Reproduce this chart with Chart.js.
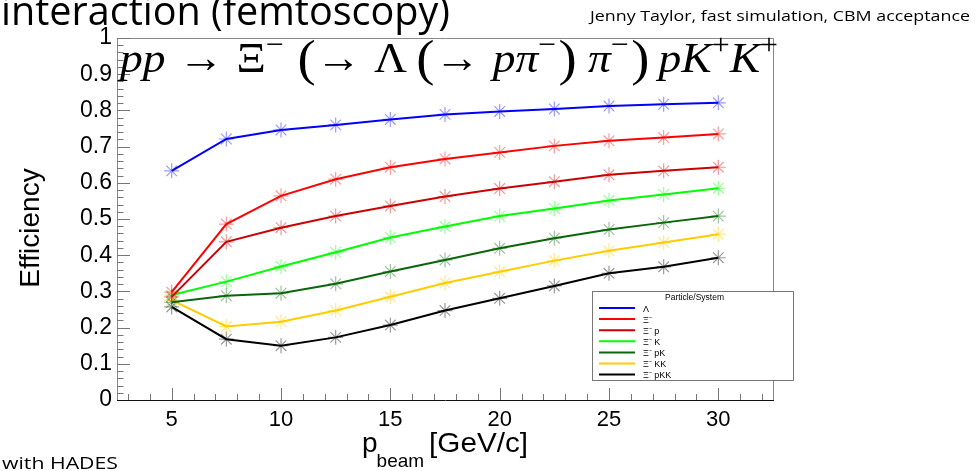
<!DOCTYPE html>
<html>
<head>
<meta charset="utf-8">
<script src="https://cdn.jsdelivr.net/npm/chart.js@4"></script>
<style>
  html, body { margin: 0; padding: 0; background: #fff; }
  #effChart { display: block; }
</style>
</head>
<body>
<canvas id="effChart" width="976" height="471"></canvas>
<script>
// beam momentum points (GeV/c)
const beamMomentum = [5, 7.5, 10, 12.5, 15, 17.5, 20, 22.5, 25, 27.5, 30];

// efficiencies
const effLambda = [0.633, 0.721, 0.746, 0.760, 0.775, 0.789, 0.797, 0.804, 0.812, 0.817, 0.821];
const effXi     = [0.298, 0.486, 0.564, 0.610, 0.643, 0.666, 0.684, 0.702, 0.716, 0.725, 0.735];
const effXiP    = [0.285, 0.437, 0.476, 0.508, 0.536, 0.562, 0.584, 0.603, 0.622, 0.633, 0.643];
const effXiK    = [0.290, 0.327, 0.369, 0.408, 0.449, 0.479, 0.508, 0.529, 0.551, 0.568, 0.585];
const effXiPK   = [0.270, 0.288, 0.295, 0.321, 0.355, 0.387, 0.419, 0.447, 0.471, 0.490, 0.508];
const effXiKK   = [0.276, 0.203, 0.216, 0.247, 0.285, 0.323, 0.354, 0.385, 0.412, 0.435, 0.458];
const effXiPKK  = [0.257, 0.168, 0.150, 0.173, 0.207, 0.247, 0.281, 0.315, 0.350, 0.368, 0.393];

const seriesLabels = ['Λ', 'Ξ⁻', 'Ξ⁻ p', 'Ξ⁻ K', 'Ξ⁻ pK', 'Ξ⁻ KK', 'Ξ⁻ pKK'];
const seriesValues = [effLambda, effXi, effXiP, effXiK, effXiPK, effXiKK, effXiPKK];
const lineColors   = ['#0000ff', '#ff0000', '#cc0000', '#00ff00', '#0a660a', '#ffcc00', '#000000'];
const markerColors = ['rgba(0,0,255,0.4)', 'rgba(255,0,0,0.4)', 'rgba(204,0,0,0.4)', 'rgba(0,255,0,0.4)',
                      'rgba(10,102,10,0.4)', 'rgba(255,204,0,0.45)', 'rgba(0,0,0,0.4)'];

const xTickValues = [5, 10, 15, 20, 25, 30];
const legendTitle = 'Particle/System';

// draw text squeezed/stretched to a given width
function fitText(ctx, text, x, y, w) {
    const m = ctx.measureText(text).width;
    ctx.save();
    ctx.translate(x, y);
    ctx.scale(w / m, 1);
    ctx.fillText(text, 0, 0);
    ctx.restore();
}

// ROOT style frame with inward ticks
const framePlugin = {
    id: 'frame',
    afterDatasetsDraw(chart) {
        const { ctx, chartArea: a, scales: { x, y } } = chart;
        ctx.save();
        ctx.lineWidth = 1;
        ctx.strokeStyle = '#888';
        ctx.beginPath();
        ctx.moveTo(a.left + 0.5, a.bottom);
        ctx.lineTo(a.left + 0.5, a.top + 0.5);
        ctx.lineTo(a.right + 0.5, a.top + 0.5);
        ctx.lineTo(a.right + 0.5, a.bottom);
        ctx.stroke();

        ctx.strokeStyle = '#777';
        ctx.beginPath();
        for (let v = 3; v <= 32; v++) {
            const px = Math.round(x.getPixelForValue(v)) + 0.5;
            const len = v % 5 === 0 ? 12 : 6;
            ctx.moveTo(px, a.bottom);
            ctx.lineTo(px, a.bottom - len);
        }
        for (let i = 0; i <= 50; i++) {
            const py = Math.round(y.getPixelForValue(i * 0.02)) + 0.5;
            const len = i % 5 === 0 ? 13 : 6.5;
            ctx.moveTo(a.left, py);
            ctx.lineTo(a.left + len, py);
        }
        ctx.stroke();

        ctx.strokeStyle = '#111';
        ctx.beginPath();
        ctx.moveTo(a.left, a.bottom + 0.5);
        ctx.lineTo(a.right + 1, a.bottom + 0.5);
        ctx.stroke();
        ctx.restore();
    }
};

// legend box, axis titles, formula and slide text
const textPlugin = {
    id: 'texts',
    afterDraw(chart) {
        const { ctx, chartArea: a } = chart;
        ctx.save();
        ctx.fillStyle = '#000';
        ctx.textBaseline = 'alphabetic';

        // legend
        const lx = a.right - 181, ly = a.bottom - 109, lw = 201, lh = 89;
        ctx.fillStyle = '#fff';
        ctx.fillRect(lx, ly, lw, lh);
        ctx.strokeStyle = '#777';
        ctx.lineWidth = 1;
        ctx.strokeRect(lx + 0.5, ly + 0.5, lw, lh);
        ctx.fillStyle = '#000';
        ctx.font = '8.5px "Liberation Sans"';
        ctx.textAlign = 'center';
        ctx.fillText(legendTitle, lx + lw / 2 + 2, ly + 9);
        ctx.textAlign = 'left';
        chart.data.datasets.forEach((ds, i) => {
            const ey = ly + 17 + i * 11.1;
            ctx.strokeStyle = ds.borderColor;
            ctx.lineWidth = 2;
            ctx.beginPath();
            ctx.moveTo(lx + 7, ey);
            ctx.lineTo(lx + 43, ey);
            ctx.stroke();
            ctx.font = '9px "Liberation Sans"';
            ctx.fillText(ds.label, lx + 51, ey + 3.5);
        });

        // y title
        ctx.font = '28px "Liberation Sans"';
        ctx.save();
        ctx.translate(39, (a.top + a.bottom) / 2 + 9);
        ctx.rotate(-Math.PI / 2);
        ctx.textAlign = 'center';
        ctx.fillText('Efficiency', 0, 0);
        ctx.restore();

        // x title p_beam [GeV/c]
        ctx.textAlign = 'left';
        let xx = 362;
        ctx.font = '28px "Liberation Sans"';
        ctx.fillText('p', xx, 452);
        xx += ctx.measureText('p').width;
        ctx.font = '19px "Liberation Sans"';
        ctx.fillText('beam', xx - 1, 467);
        xx += ctx.measureText('beam').width + 4;
        ctx.font = '28px "Liberation Sans"';
        fitText(ctx, '[GeV/c]', xx, 452, 528 - xx);

        // formula, LaTeX-like spacing (gap in em)
        const segs = [
            { t: 'pp', it: 1 }, { g: 0.28 }, { t: '→' }, { g: 0.28 }, { t: 'Ξ' }, { t: '−', sup: 1 }, { g: 0.3 },
            { t: '(', big: 1 }, { t: '→' }, { g: 0.28 }, { t: 'Λ' }, { g: 0.2 }, { t: '(', big: 1 }, { t: '→' }, { g: 0.28 },
            { t: 'pπ', it: 1 }, { t: '−', sup: 1 }, { g: 0.05 }, { t: ')', big: 1 }, { g: 0.25 },
            { t: 'π', it: 1 }, { t: '−', sup: 1 }, { g: 0.05 }, { t: ')', big: 1 }, { g: 0.2 },
            { t: 'pK', it: 1 }, { t: '+', sup: 1 }, { t: 'K', it: 1 }, { t: '+', sup: 1 }
        ];
        const base = 43;
        const fontOf = s => (s.it ? 'italic ' : '') +
            (s.sup ? base * 0.7 : s.big ? base * 1.2 : base) + 'px "Liberation Serif"';
        let total = 0;
        segs.forEach(s => {
            if (s.g) { s.w = s.g * base; }
            else { ctx.font = fontOf(s); s.w = ctx.measureText(s.t).width; }
            total += s.w;
        });
        const sx = (778 - 120) / total;
        ctx.save();
        ctx.translate(120, 72);
        ctx.scale(sx, 1);
        let cx = 0;
        segs.forEach(s => {
            if (!s.g) {
                ctx.font = fontOf(s);
                const dy = s.sup ? -base * 0.42 : s.big ? base * 0.08 : 0;
                ctx.fillText(s.t, cx, dy);
            }
            cx += s.w;
        });
        ctx.restore();

        // slide text around the plot
        ctx.font = '40px "Open Sans"';
        fitText(ctx, 'interaction (femtoscopy)', 1, 25, 449);
        ctx.font = '15px "Open Sans"';
        fitText(ctx, 'Jenny Taylor, fast simulation, CBM acceptance', 590, 21, 380);
        ctx.font = '17px "Open Sans"';
        fitText(ctx, 'with HADES', 2, 469, 116);
        ctx.restore();
    }
};

const datasets = seriesValues.map((vals, i) => ({
    label: seriesLabels[i],
    data: beamMomentum.map((p, j) => ({ x: p, y: vals[j] })),
    borderColor: lineColors[i],
    backgroundColor: lineColors[i],
    borderWidth: 2,
    pointStyle: 'star',
    pointRadius: 7.5,
    pointBorderWidth: 1.2,
    pointBorderColor: markerColors[i],
    pointBackgroundColor: markerColors[i],
    tension: 0
}));

new Chart(document.getElementById('effChart').getContext('2d'), {
    type: 'line',
    data: { datasets: datasets },
    options: {
        responsive: false,
        animation: false,
        devicePixelRatio: 1,
        layout: { padding: { left: 0, top: 38, right: 203, bottom: 0 } },
        plugins: {
            legend: { display: false },
            tooltip: { enabled: false }
        },
        scales: {
            x: {
                type: 'linear',
                min: 2.5,
                max: 32.5,
                afterFit: s => { s.height = 71; },
                afterBuildTicks: s => { s.ticks = xTickValues.map(v => ({ value: v })); },
                grid: { display: false, drawTicks: false },
                border: { display: false },
                ticks: {
                    color: '#000',
                    padding: 7,
                    maxRotation: 0,
                    font: { family: 'Liberation Sans', size: 22 }
                }
            },
            y: {
                min: 0,
                max: 1,
                afterFit: s => { s.width = 117; },
                grid: { display: false, drawTicks: false },
                border: { display: false },
                ticks: {
                    stepSize: 0.1,
                    color: '#000',
                    padding: 5,
                    font: { family: 'Liberation Sans', size: 23 },
                    callback: v => String(+v.toFixed(1))
                }
            }
        }
    },
    plugins: [framePlugin, textPlugin]
});
</script>
</body>
</html>
